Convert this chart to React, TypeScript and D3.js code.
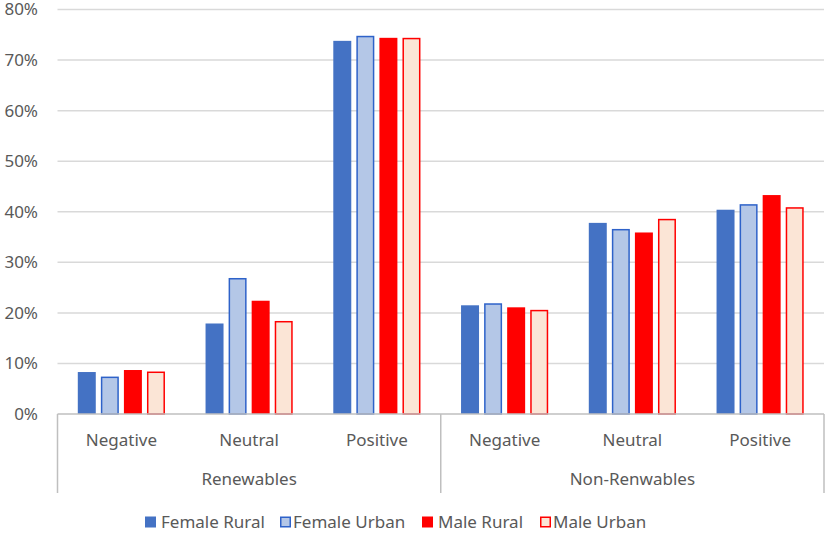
import React from 'react'
import * as d3 from 'd3'

const groups = ['Renewables', 'Non-Renwables']
const sentiments = ['Negative', 'Neutral', 'Positive']
const seriesNames = ['Female Rural', 'Female Urban', 'Male Rural', 'Male Urban']

// values in %, order: groups x sentiments
const femaleRural = [8.3, 17.9, 73.8, 21.5, 37.8, 40.4]
const femaleUrban = [7.4, 26.9, 74.8, 21.9, 36.6, 41.5]
const maleRural = [8.7, 22.4, 74.4, 21.1, 35.9, 43.3]
const maleUrban = [8.4, 18.4, 74.4, 20.6, 38.6, 40.9]
const yTicks = [0, 10, 20, 30, 40, 50, 60, 70, 80]

const seriesValues = [femaleRural, femaleUrban, maleRural, maleUrban]

const styles = [
  { fill: '#4472C4', stroke: '#3A66B5' },
  { fill: '#B4C7E7', stroke: '#2E62C9' },
  { fill: '#FF0000', stroke: '#FF0000' },
  { fill: '#FBE5D6', stroke: '#FF0000' },
]

const W = 829
const H = 533
const left = 57.5
const right = 824
const top = 9.5
const bottom = 414
const font = "'Segoe UI', 'Noto Sans', sans-serif"
const fontSize = 17
const textColor = '#595959'

const App: React.FC = () => {
  const cats = groups.flatMap(g => sentiments.map(s => `${g}|${s}`))

  const x = d3.scaleBand<string>().domain(cats).range([left, right]).padding(0)
  const inner = d3
    .scaleBand<string>()
    .domain(seriesNames)
    .range([0, x.bandwidth()])
    .paddingInner(0.22)
    .paddingOuter(0.88)
  const y = d3.scaleLinear().domain([0, 80]).range([bottom, top])

  const groupWidth = (right - left) / groups.length
  const bw = inner.bandwidth()

  const legendX = [145, 280, 422, 540]

  return (
    <div style={{ position: 'fixed', left: 0, top: 0 }}>
      <svg width={W} height={H} style={{ display: 'block', background: '#fff' }}>
        {/* grid */}
        {yTicks.map(t => (
          <g key={t}>
            {t > 0 && (
              <line x1={left} x2={right} y1={y(t)} y2={y(t)} stroke="#D9D9D9" strokeWidth={1.5} />
            )}
            <text
              x={38}
              y={y(t)}
              dy="0.35em"
              textAnchor="end"
              fontFamily={font}
              fontSize={fontSize}
              fill={textColor}
            >
              {t}%
            </text>
          </g>
        ))}

        {/* bars */}
        {seriesValues.map((vals, si) =>
          vals.map((v, ci) => {
            const outlined = si === 1 || si === 3
            const x0 = (x(cats[ci]) ?? 0) + (inner(seriesNames[si]) ?? 0)
            return (
              <rect
                key={`${si}-${ci}`}
                x={outlined ? x0 + 0.75 : x0}
                y={outlined ? y(v) + 0.75 : y(v)}
                width={outlined ? bw - 1.5 : bw}
                height={outlined ? bottom - y(v) - 0.75 : bottom - y(v)}
                fill={styles[si].fill}
                stroke={outlined ? styles[si].stroke : 'none'}
                strokeWidth={1.5}
              />
            )
          })
        )}

        {/* axis */}
        <line x1={left} x2={right} y1={bottom} y2={bottom} stroke="#BFBFBF" strokeWidth={1.5} />
        {d3.range(groups.length + 1).map(i => (
          <line
            key={i}
            x1={left + i * groupWidth}
            x2={left + i * groupWidth}
            y1={bottom}
            y2={493}
            stroke="#BFBFBF"
            strokeWidth={1.5}
          />
        ))}
        {cats.map(c => (
          <text
            key={c}
            x={(x(c) ?? 0) + x.bandwidth() / 2}
            y={440}
            dy="0.35em"
            textAnchor="middle"
            fontFamily={font}
            fontSize={fontSize}
            fill={textColor}
          >
            {c.split('|')[1]}
          </text>
        ))}
        {groups.map((g, i) => (
          <text
            key={g}
            x={left + (i + 0.5) * groupWidth}
            y={479}
            dy="0.35em"
            textAnchor="middle"
            fontFamily={font}
            fontSize={fontSize}
            fill={textColor}
          >
            {g}
          </text>
        ))}

        {/* legend */}
        {seriesNames.map((n, i) => {
          const outlined = i === 1 || i === 3
          return (
            <g key={n} transform={`translate(${legendX[i]},522)`}>
              <rect
                x={outlined ? 0.75 : 0}
                y={outlined ? -4.75 : -5.5}
                width={outlined ? 9.5 : 11}
                height={outlined ? 9.5 : 11}
                fill={styles[i].fill}
                stroke={outlined ? styles[i].stroke : 'none'}
                strokeWidth={1.5}
              />
              <text
                x={outlined ? 13 : 16}
                y={0}
                dy="0.35em"
                fontFamily={font}
                fontSize={fontSize}
                fill={textColor}
              >
                {n}
              </text>
            </g>
          )
        })}
      </svg>
    </div>
  )
}

export default App
